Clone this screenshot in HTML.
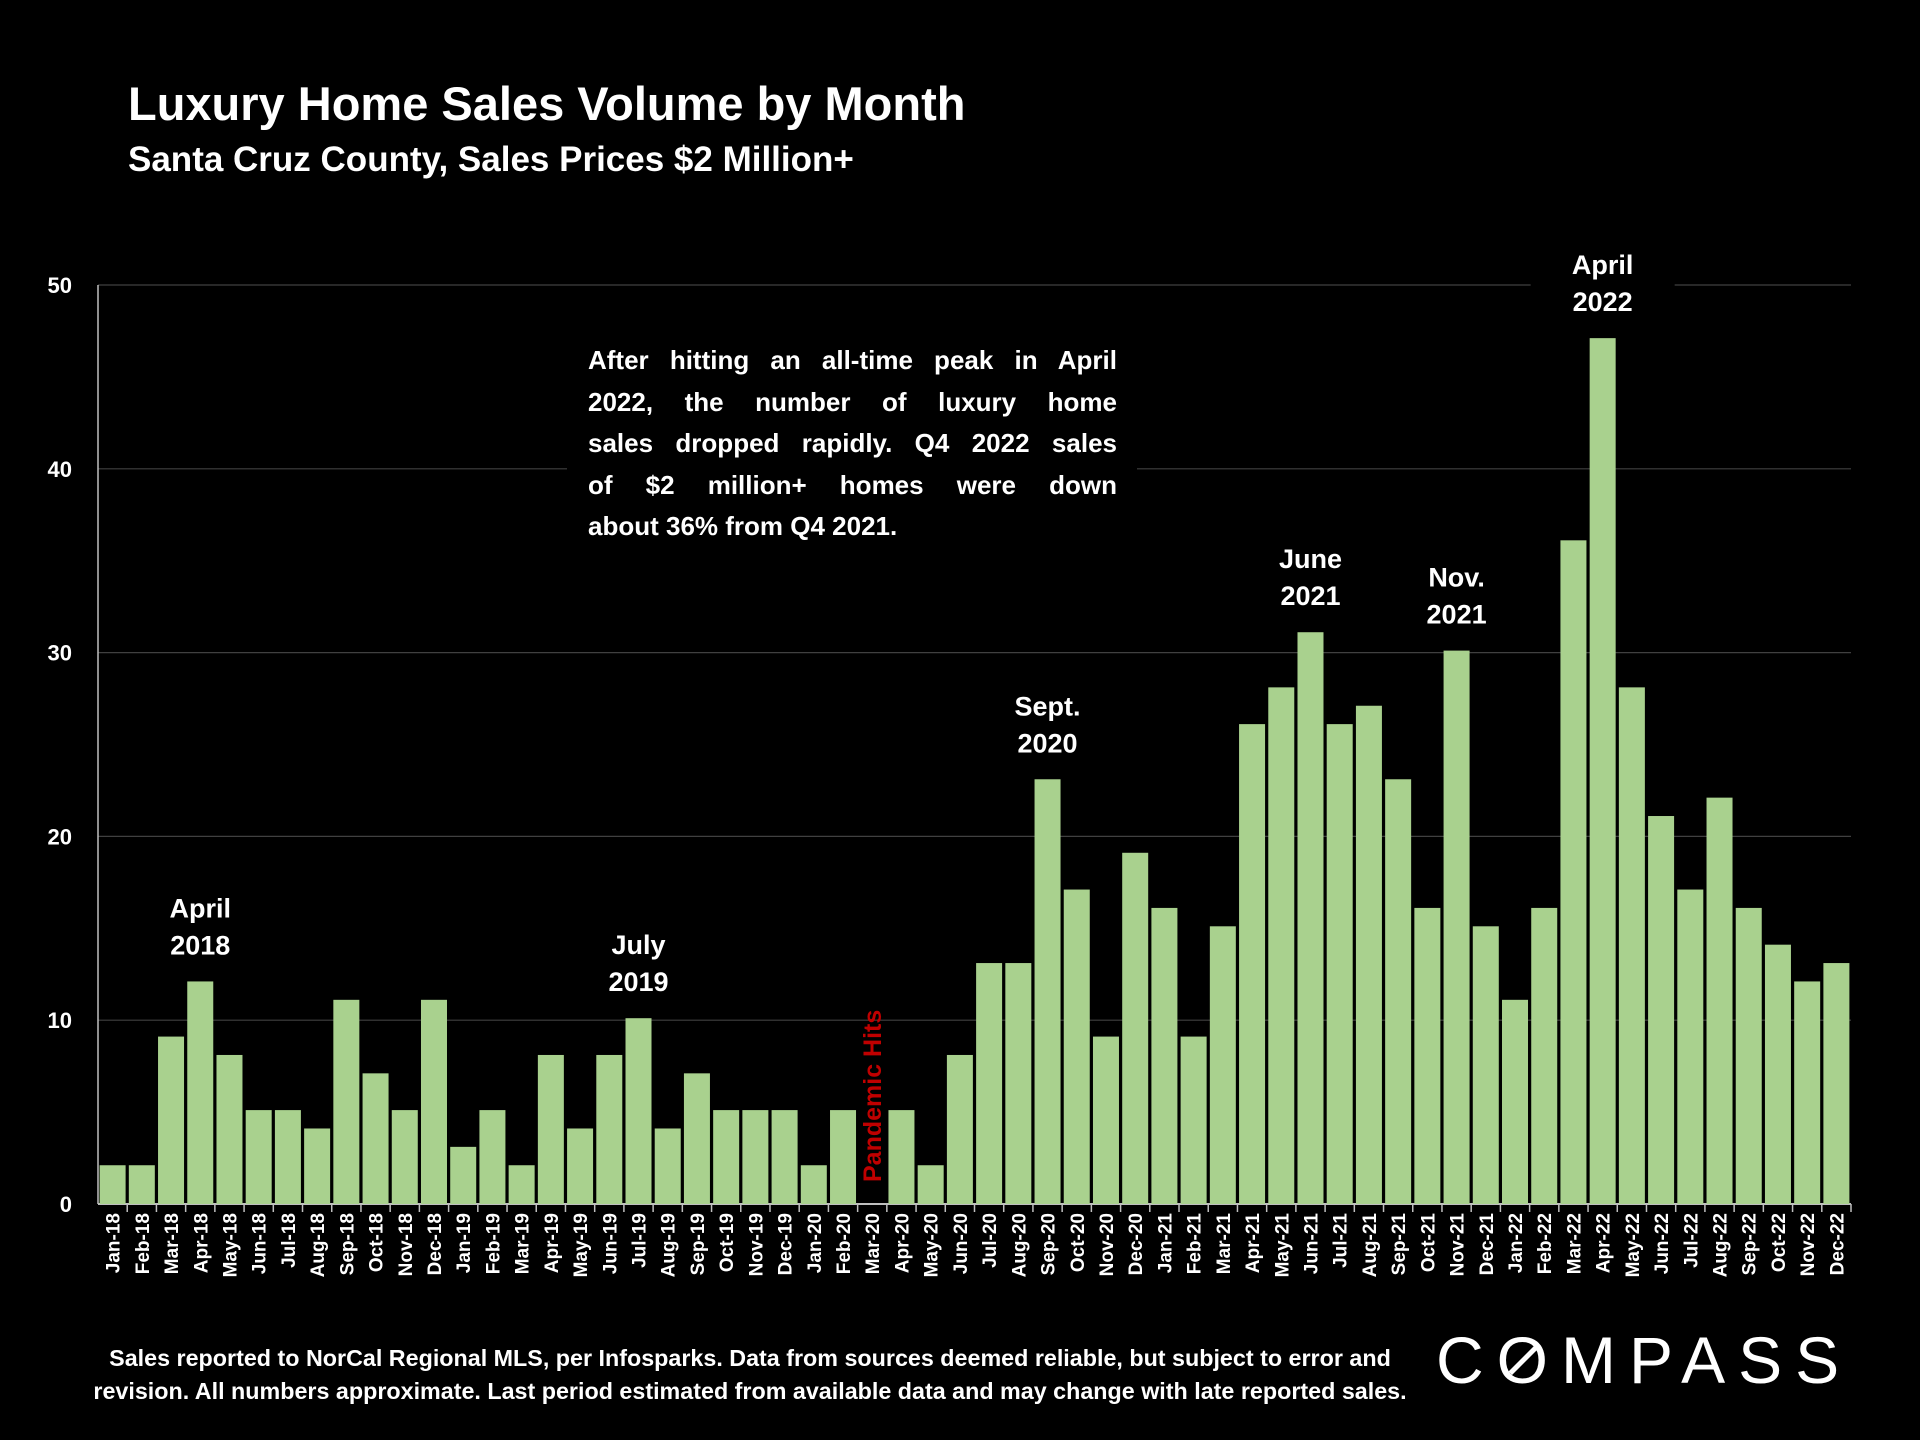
<!DOCTYPE html>
<html><head><meta charset="utf-8"><style>
html,body{margin:0;padding:0;background:#000;}
body{width:1920px;height:1440px;position:relative;overflow:hidden;font-family:"Liberation Sans",sans-serif;color:#fff;}
.t{position:absolute;font-weight:bold;}
#note{position:absolute;left:567px;top:336px;width:570px;height:214px;background:#000;}
#note div{font-weight:bold;font-size:26px;line-height:41.6px;text-align:justify;text-align-last:justify;margin-left:21px;width:529px;}
#note div.last{text-align-last:left;}
</style></head><body>
<div class="t" style="left:128px;top:76px;font-size:47px;">Luxury Home Sales Volume by Month</div>
<div class="t" style="left:128px;top:140px;font-size:35px;">Santa Cruz County, Sales Prices $2 Million+</div>
<svg id="chart" width="1920" height="1440" style="position:absolute;left:0;top:0"></svg>
<div id="note">
<div style="margin-top:4px">After hitting an all-time peak in April</div>
<div>2022, the number of luxury home</div>
<div>sales dropped rapidly. Q4 2022 sales</div>
<div>of $2 million+ homes were down</div>
<div class="last">about 36% from Q4 2021.</div>
</div>
<div class="t" style="left:40px;top:1342px;width:1420px;text-align:center;font-size:23.3px;line-height:33px;">Sales reported to NorCal Regional MLS, per Infosparks. Data from sources deemed reliable, but subject to error and<br>revision. All numbers approximate. Last period estimated from available data and may change with late reported sales.</div>
<div style="position:absolute;left:1436px;top:1322px;font-size:66px;letter-spacing:13px;font-weight:normal;">C<span style="position:relative;display:inline-block">O<span style="position:absolute;left:8px;top:36px;width:36px;height:5px;background:#fff;transform:rotate(-45deg);"></span></span>MPASS</div>
<script>
const months=["Jan","Feb","Mar","Apr","May","Jun","Jul","Aug","Sep","Oct","Nov","Dec"];
const years=["18","19","20","21","22"];
const values=[2,2,9,12,8,5,5,4,11,7,5,11,
3,5,2,8,4,8,10,4,7,5,5,5,
2,5,0,5,2,8,13,13,23,17,9,19,
16,9,15,26,28,31,26,27,23,16,30,15,
11,16,36,47,28,21,17,22,16,14,12,13];
const yTicks=[0,10,20,30,40,50];
const callouts=[["April","2018",3,12],["July","2019",18,10],["Sept.","2020",32,23],["June","2021",41,31],["Nov.","2021",46,30],["April","2022",51,47]];
const categories=[];years.forEach(y=>months.forEach(m=>categories.push(m+"-"+y)));
const svg=document.getElementById('chart');const NS="http://www.w3.org/2000/svg";
const X0=98,X1=1851,Y0=1204,Y50=285;
const step=(X1-X0)/categories.length;
const y=v=>Y0-(Y0-Y50)*v/50;
const xc=i=>X0+step*(i+0.5);
function mk(t,a,txt){const e=document.createElementNS(NS,t);for(const k in a)e.setAttribute(k,a[k]);if(txt!==undefined)e.textContent=txt;svg.appendChild(e);return e;}
yTicks.forEach(t=>{
 const g=mk('line',{x1:X0,x2:X1,y1:y(t),y2:y(t),stroke:t===0?'#bfbfbf':'#404040','stroke-width':t===0?2:1.2});
 
 
 const l=mk('text',{x:72,y:y(t)+8,'text-anchor':'end',fill:'#fff','font-size':22,'font-weight':'bold','font-family':'Liberation Sans'},t);
 
 
});
mk('line',{x1:X0,x2:X0,y1:Y50,y2:Y0,stroke:'#bfbfbf','stroke-width':1.5});
mk('rect',{x:xc(51)-72,y:y(50)-30,width:144,height:60,fill:'#000'});
values.forEach((v,i)=>{
 const off=v>0?2:0;
 const b=mk('rect',{x:xc(i)-13,y:y(v)-off,width:26,height:Y0-y(v)+off,fill:'#a9d18e'});
 
 
 mk('line',{x1:X0+step*(i+1),x2:X0+step*(i+1),y1:Y0,y2:Y0+8,stroke:'#bfbfbf','stroke-width':1.5});
 const lb=mk('text',{transform:`translate(${xc(i)+7},1213) rotate(-90)`,'text-anchor':'end',fill:'#fff','font-size':19,'font-weight':'bold','font-family':'Liberation Sans'},categories[i]);
 
 
});
callouts.forEach(c=>{
 const cx=xc(c[2]),top=y(c[3]);
 const a=mk('text',{x:cx,y:top-66,'text-anchor':'middle',fill:'#fff','font-size':27,'font-weight':'bold','font-family':'Liberation Sans'},c[0]);
 
 
 const b=mk('text',{x:cx,y:top-29,'text-anchor':'middle',fill:'#fff','font-size':27,'font-weight':'bold','font-family':'Liberation Sans'},c[1]);
 
 
});
const p=mk('text',{transform:`translate(${xc(26)+9},1182) rotate(-90)`,'text-anchor':'start',fill:'#c00000','font-size':25,'font-weight':'bold','font-family':'Liberation Sans'},'Pandemic Hits');


</script>
</body></html>
